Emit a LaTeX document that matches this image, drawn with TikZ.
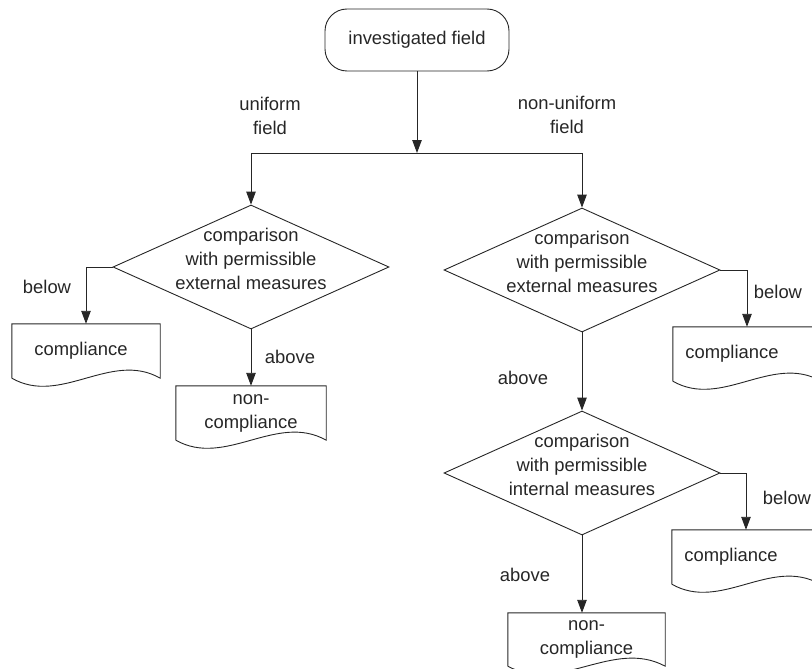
\documentclass[tikz,border=0pt]{standalone}
\usepackage{fontspec}
\setmainfont{Liberation Sans}
\usetikzlibrary{shapes.geometric,arrows.meta,calc}
\newcommand\docoutline[1]{\draw[ln] (#1.south west) -- (#1.north west) -- (#1.north east) -- (#1.south east) .. controls ($(#1.south east)!0.33!(#1.south west)+(0,-28)$) and ($(#1.south east)!0.67!(#1.south west)+(0,28)$) .. (#1.south west);}
\tikzset{
  ln/.style={draw=black!85, line width=0.9pt},
  arr/.style={ln, -{Triangle[length=13pt,width=9.5pt]}},
  txt/.style={text=black!85, font=\fontsize{18.4}{24}\selectfont, align=center, inner sep=0pt},
  decision/.style={diamond, ln, inner sep=0pt, minimum width=276pt, minimum height=124pt},
  docbox/.style={rectangle, draw=none, inner sep=0pt, txt},
  startbox/.style={rectangle, rounded corners=22pt, ln, minimum width=184pt, minimum height=62pt, txt}
}
\begin{document}
\begin{tikzpicture}[x=1pt,y=-1pt]
\useasboundingbox (0,0) rectangle (812,669);
\clip (0,0) rectangle (812,669);
\node[startbox] (top) at (417,40) {investigated field};
\coordinate (j) at (417,153);
\node[decision] (d1) at (251,267) {};
\node[txt] (d1t) at (251,259) {comparison\\with permissible\\external measures};
\node[decision] (d2) at (582,270) {};
\node[txt] (d2t) at (582,262) {comparison\\with permissible\\external measures};
\node[decision] (d3) at (582,473) {};
\node[txt] (d3t) at (582,465) {comparison\\with permissible\\internal measures};
\node[docbox, minimum width=148pt, minimum height=54pt] (c1) at (86,351) {\hspace*{-10pt}compliance};
\node[docbox, minimum width=150pt, minimum height=54pt] (nc1) at (251,413) {non-\\compliance};
\node[docbox, minimum width=148pt, minimum height=54pt] (c2) at (747,354) {\hspace*{-30pt}compliance};
\node[docbox, minimum width=148pt, minimum height=54pt] (c3) at (746,557) {\hspace*{-30pt}compliance};
\node[docbox, minimum width=157pt, minimum height=53pt] (nc2) at (586.5,639.5) {non-\\compliance};
\docoutline{c1}
\docoutline{nc1}
\docoutline{c2}
\docoutline{c3}
\docoutline{nc2}
\draw[arr] (top) -- (j);
\draw[ln] (j -| d1.north) -- (j -| d2.north);
\draw[arr] (j -| d1.north) -- (d1.north);
\draw[arr] (j -| d2.north) -- (d2.north);
\draw[arr] (d1.west) -| (c1.north);
\draw[arr] (d1.south) -- (nc1.north);
\draw[arr] (d2.east) -| (c2.north);
\draw[arr] (d2.south) -- (d3.north);
\draw[arr] (d3.east) -| (c3.north);
\draw[arr] (d3.south) -- (d3.south |- nc2.north);
\node[txt] (lu) at (270,116) {uniform\\field};
\node[txt] (lnu) at (567,115) {non-uniform\\field};
\node[txt] (b1) at (47,287) {below};
\node[txt] (a1) at (290,357) {above};
\node[txt] (b2) at (778,292) {below};
\node[txt] (a2) at (523,378) {above};
\node[txt] (b3) at (787,498) {below};
\node[txt] (a3) at (525,575) {above};
\end{tikzpicture}
\end{document}
